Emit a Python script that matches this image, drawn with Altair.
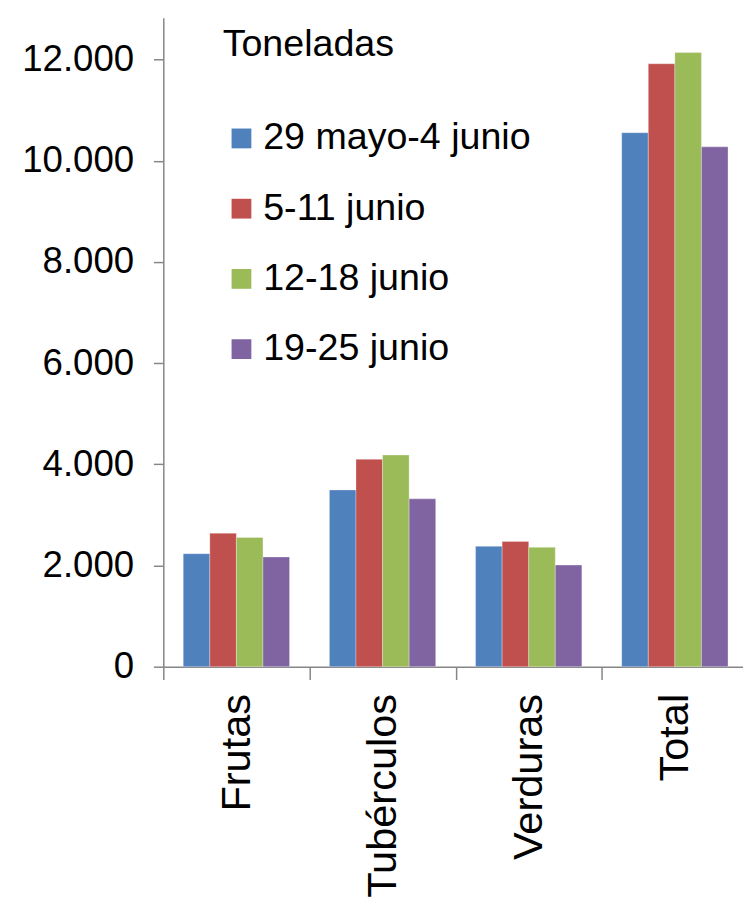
import altair as alt
import pandas as pd

categories = ["Frutas", "Tubérculos", "Verduras", "Total"]
weeks = ["29 mayo-4 junio", "5-11 junio", "12-18 junio", "19-25 junio"]
colors = ["#4F81BD", "#C0504D", "#9BBB59", "#8064A2"]

v_week1 = [2234, 3494, 2379, 10557]
v_week2 = [2639, 4100, 2477, 11920]
v_week3 = [2555, 4184, 2360, 12141]
v_week4 = [2170, 3318, 2008, 10277]

y_ticks = [0, 2000, 4000, 6000, 8000, 10000, 12000]

rows = []
for w, vals in zip(weeks, [v_week1, v_week2, v_week3, v_week4]):
    for c, v in zip(categories, vals):
        rows.append({"cat": c, "week": w, "value": v})
df = pd.DataFrame(rows)

FONT = "Liberation Sans"

chart = alt.Chart(df).mark_bar(stroke="#ffffff", strokeWidth=0.6, strokeOpacity=0.5).encode(
    x=alt.X("cat:N", sort=categories, title=None,
            scale=alt.Scale(paddingInner=0, paddingOuter=0, range=[0, 591]),
            axis=alt.Axis(labelAngle=270, labelAlign="right", labelBaseline="middle",
                          labelFontSize=42, labelFont=FONT, labelColor="#000000",
                          labelPadding=14, tickSize=13, tickBand="extent", labelLimit=0,
                          domainColor="#868686", tickColor="#868686",
                          domainWidth=1.5, tickWidth=1.5)),
    xOffset=alt.XOffset("week:N", sort=weeks,
                        scale=alt.Scale(paddingInner=0, paddingOuter=0.75)),
    y=alt.Y("value:Q", title=None,
            scale=alt.Scale(domain=[0, 12830], nice=False, zero=True),
            axis=alt.Axis(values=y_ticks, grid=False,
                          labelExpr="replace(format(datum.value, ','), ',', '.')",
                          labelFontSize=37, labelFont=FONT, labelColor="#000000",
                          labelPadding=20, tickSize=10,
                          domainColor="#868686", tickColor="#868686",
                          domainWidth=1.5, tickWidth=1.5)),
    color=alt.Color("week:N", sort=weeks,
                    scale=alt.Scale(domain=weeks, range=colors),
                    legend=alt.Legend(title="Toneladas", orient="none",
                                      legendX=60, legendY=9,
                                      titleFontSize=38, titleFont=FONT, titleFontWeight="normal",
                                      titleColor="#000000", titlePadding=56,
                                      labelFontSize=38, labelFont=FONT, labelColor="#000000",
                                      labelOffset=3, labelLimit=0,
                                      symbolType="square", symbolSize=400,
                                      symbolStrokeWidth=0, rowPadding=33)),
).properties(
    width=586,
    height=656,
    autosize=alt.AutoSizeParams(type="none"),
    padding={"left": 157, "top": 5, "right": 0, "bottom": 230},
).configure_view(stroke=None)

chart.save("out.html", embed_options={"renderer": "svg", "actions": False})
